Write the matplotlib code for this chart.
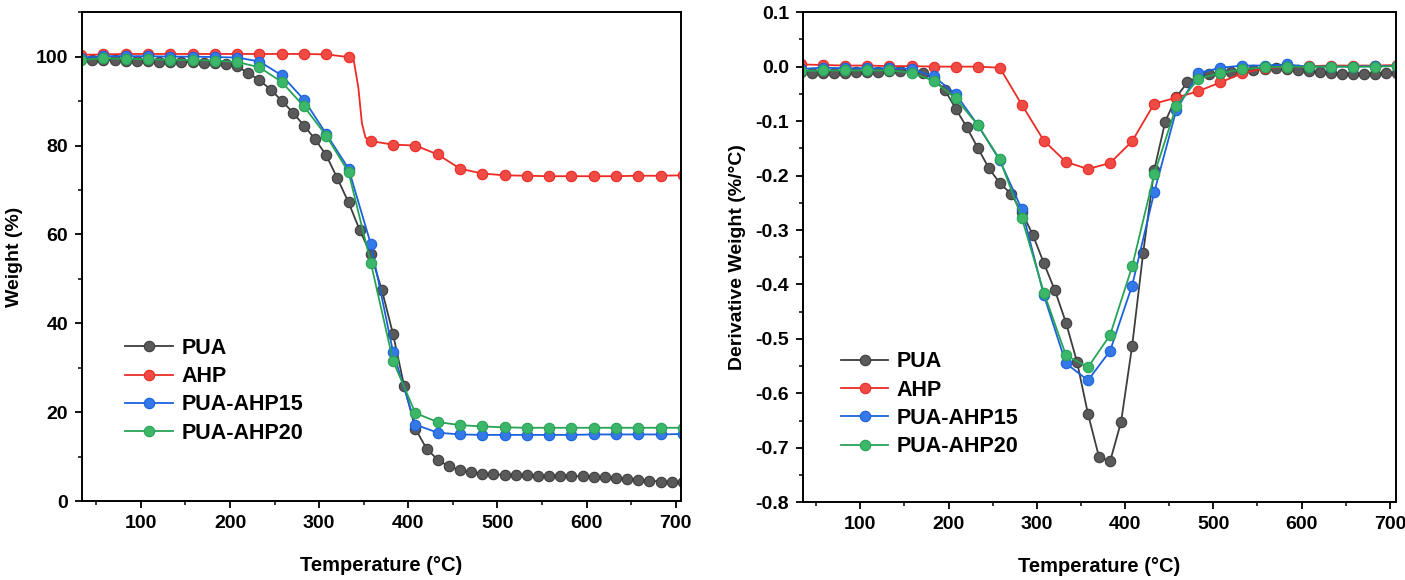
import numpy as np
import matplotlib
matplotlib.use("Agg")
import matplotlib.pyplot as plt
from matplotlib.ticker import MultipleLocator

plt.rcParams['font.family'] = ['Liberation Sans', 'DejaVu Sans']
plt.rcParams['font.weight'] = 'bold'

# temperature grids (°C)
T12 = [33 + 12.5 * k for k in range(55)]          # PUA (denser sampling)
T25 = [33 + 25 * k for k in range(28)]            # other samples

# ---- TGA: weight (%) ----
tga_pua = [99.4, 99.3, 99.3, 99.2, 99.1, 99.0, 99.0, 98.9, 98.9, 98.8, 98.7, 98.6, 98.5, 98.3,
           97.8, 96.3, 94.7, 92.6, 90.1, 87.4, 84.5, 81.4, 77.8, 72.6, 67.2, 61.0, 55.5, 47.4,
           37.5, 25.8, 16.3, 11.8, 9.3, 7.8, 7.0, 6.5, 6.2, 6.0, 5.9, 5.8, 5.8, 5.7, 5.7, 5.7,
           5.6, 5.6, 5.5, 5.4, 5.2, 5.0, 4.8, 4.6, 4.4, 4.3, 4.2]
# AHP has a sharp step between 333 and 358 °C -> extra unmarked points
T_ahp = [33, 58, 83, 108, 133, 158, 183, 208, 233, 258, 283, 308, 333, 339, 344, 348, 352,
         358, 383, 408, 433, 458, 483, 508, 533, 558, 583, 608, 633, 658, 683, 708]
tga_ahp = [100.4, 100.5, 100.6, 100.6, 100.6, 100.6, 100.6, 100.6, 100.6, 100.6, 100.6, 100.5,
           99.9, 99.0, 93.0, 85.0, 81.8, 81.0, 80.2, 80.0, 78.0, 74.8, 73.7, 73.3, 73.2, 73.1,
           73.1, 73.1, 73.1, 73.2, 73.2, 73.3]
ahp_marks = [i for i, t in enumerate(T_ahp) if t not in (339, 344, 348, 352)]
tga_15 = [99.8, 100.1, 100.1, 100.1, 100.0, 100.0, 99.9, 99.8, 98.9, 95.8, 90.3, 82.6, 74.8,
          57.8, 33.5, 17.2, 15.4, 15.0, 14.9, 14.9, 14.9, 14.9, 14.9, 15.0, 15.0, 15.0, 15.0, 15.1]
tga_20 = [99.3, 99.6, 99.5, 99.4, 99.3, 99.2, 99.1, 98.8, 97.6, 94.3, 88.8, 82.2, 74.0, 53.6,
          31.5, 19.8, 17.8, 17.1, 16.8, 16.6, 16.5, 16.5, 16.5, 16.5, 16.5, 16.5, 16.5, 16.5]

# ---- DTG: derivative weight (%/°C) ----
dtg_pua = [-0.010, -0.011, -0.011, -0.011, -0.011, -0.010, -0.010, -0.009, -0.008, -0.008,
           -0.009, -0.012, -0.022, -0.042, -0.077, -0.111, -0.149, -0.186, -0.214, -0.233,
           -0.267, -0.309, -0.361, -0.411, -0.470, -0.542, -0.638, -0.717, -0.725, -0.652,
           -0.513, -0.342, -0.190, -0.101, -0.056, -0.029, -0.018, -0.014, -0.012, -0.010,
           -0.008, -0.006, -0.004, -0.003, -0.004, -0.006, -0.008, -0.010, -0.012, -0.013,
           -0.014, -0.014, -0.013, -0.012, -0.012]
dtg_ahp = [0.004, 0.003, 0.002, 0.002, 0.001, 0.001, 0.000, 0.000, 0.000, -0.002, -0.070,
           -0.136, -0.175, -0.188, -0.177, -0.137, -0.068, -0.057, -0.045, -0.029, -0.012,
           -0.003, 0.000, 0.001, 0.002, 0.002, 0.002, 0.003]
dtg_15 = [-0.004, -0.002, -0.003, -0.003, -0.003, -0.004, -0.018, -0.050, -0.107, -0.172,
          -0.262, -0.420, -0.545, -0.576, -0.522, -0.402, -0.231, -0.080, -0.012, -0.002,
          0.002, 0.002, 0.004, 0.000, 0.000, 0.000, 0.001, 0.001]
dtg_20 = [-0.008, -0.007, -0.007, -0.007, -0.007, -0.011, -0.026, -0.058, -0.107, -0.170,
          -0.278, -0.415, -0.530, -0.552, -0.493, -0.367, -0.198, -0.073, -0.022, -0.012,
          -0.005, -0.001, 0.000, 0.000, 0.000, 0.000, 0.000, 0.001]

labels = ['PUA', 'AHP', 'PUA-AHP15', 'PUA-AHP20']
line_cols = ['#3d3d3d', '#ec2b25', '#1a62dc', '#27a356']
face_cols = ['#5a5a5a', '#f04a44', '#3579e8', '#3cb76a']
dtg_ticks = [-0.8, -0.7, -0.6, -0.5, -0.4, -0.3, -0.2, -0.1, 0.0, 0.1]

fig = plt.figure(figsize=(14.05, 5.8), dpi=100)
ax1 = fig.add_axes([0.0584, 0.136, 0.4263, 0.843])
ax2 = fig.add_axes([0.5715, 0.134, 0.4221, 0.845])


def draw(ax, series):
    for (x, y, mk), lab, lc, fc in zip(series, labels, line_cols, face_cols):
        ax.plot(x, y, '-', color=lc, lw=1.3, marker='o', ms=7.5, mfc=fc, mec=lc,
                mew=0.8, markevery=mk, label=lab)


draw(ax1, [(T12, tga_pua, None), (T_ahp, tga_ahp, ahp_marks),
           (T25, tga_15, None), (T25, tga_20, None)])
draw(ax2, [(T12, dtg_pua, None), (T25, dtg_ahp, None),
           (T25, dtg_15, None), (T25, dtg_20, None)])

ax1.set_xlim(34, 706)
ax1.set_ylim(0, 110)
ax1.yaxis.set_major_locator(MultipleLocator(20))
ax1.yaxis.set_minor_locator(MultipleLocator(10))
ax1.set_ylabel('Weight (%)', fontsize=14, fontweight='bold', labelpad=9)

ax2.set_xlim(35, 707)
ax2.set_ylim(-0.8, 0.1)
ax2.set_yticks(dtg_ticks)
ax2.set_yticklabels(['%.1f' % v if abs(v) > 1e-9 else '0.0' for v in dtg_ticks])
ax2.yaxis.set_minor_locator(MultipleLocator(0.05))
ax2.set_ylabel('Derivative Weight (%/°C)', fontsize=14, fontweight='bold', labelpad=7)

for ax in (ax1, ax2):
    ax.xaxis.set_major_locator(MultipleLocator(100))
    ax.xaxis.set_minor_locator(MultipleLocator(50))
    ax.set_xlabel('Temperature (°C)', fontsize=14.5, fontweight='bold', labelpad=17)
    ax.tick_params(which='major', direction='out', length=5, width=1.3, labelsize=14, pad=5)
    ax.tick_params(which='minor', direction='out', length=3, width=1.1)
    for lbl in ax.get_xticklabels() + ax.get_yticklabels():
        lbl.set_fontweight('bold')
    for sp in ax.spines.values():
        sp.set_linewidth(1.4)

leg_kw = dict(loc='upper left', frameon=False, handlelength=2.2, handletextpad=0.4,
              labelspacing=0.34, borderaxespad=0, borderpad=0,
              prop={'weight': 'bold', 'size': 15.5})
ax1.legend(bbox_to_anchor=(0.072, 0.334), **leg_kw)
ax2.legend(bbox_to_anchor=(0.064, 0.308), **leg_kw)

fig.savefig('out.png', dpi=100)
